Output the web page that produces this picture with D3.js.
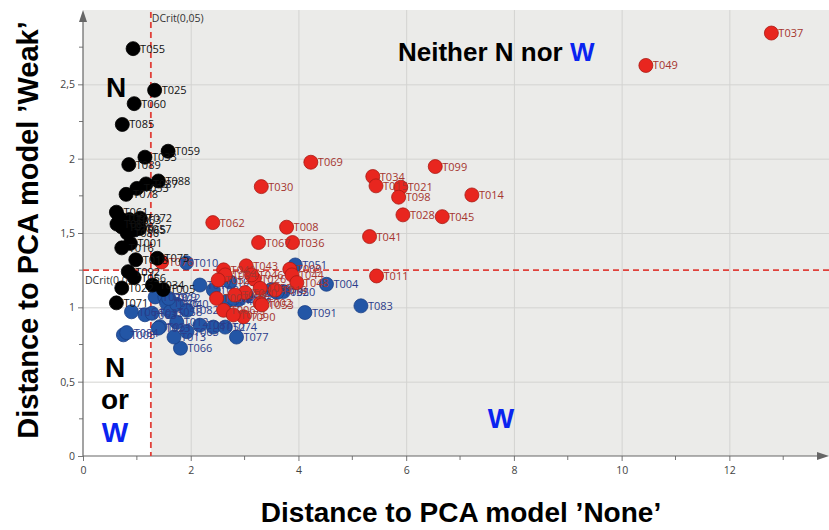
<!DOCTYPE html>
<html>
<head>
<meta charset="utf-8">
<script src="https://cdn.jsdelivr.net/npm/d3@7"></script>
<style>
  html, body { margin: 0; padding: 0; background: #fff; }
  svg { display: block; }
</style>
</head>
<body>
<svg id="chart" width="829" height="530"></svg>
<script>
// Critical distances (DCrit at 0,05) for both PCA models
const dCritNone = 1.26;
const dCritWeak = 1.25;

// Axis tick values
const xMajorTicks = [0, 2, 4, 6, 8, 10, 12];
const xMinorTicks = [1, 3, 5, 7, 9, 11, 13];
const yMajorTicks = [0, 0.5, 1, 1.5, 2, 2.5];
const yMinorTicks = [0.25, 0.75, 1.25, 1.75, 2.25, 2.75];

// Samples classified as N (black)
const nNames = ["T055","T025","T060","T085","T059","T033","T089","T088","T087","T053","T078","T061","T072","T097","T063","T065","T070","T080","T086","T057","T001","T016","T018","T075","T092","T056","T022","T005","T034b","T071"];
const nX     = [0.93, 1.33, 0.95, 0.73, 1.58, 1.15, 0.85, 1.40, 1.17, 1.00, 0.80, 0.62, 1.06, 0.68, 0.86, 0.95, 0.72, 0.63, 0.82, 1.05, 0.88, 0.72, 0.98, 1.38, 0.84, 0.95, 0.72, 1.49, 1.29, 0.62];
const nY     = [2.74, 2.46, 2.37, 2.23, 2.05, 2.01, 1.96, 1.85, 1.83, 1.80, 1.76, 1.64, 1.60, 1.60, 1.59, 1.52, 1.54, 1.56, 1.50, 1.53, 1.43, 1.40, 1.32, 1.33, 1.24, 1.20, 1.13, 1.12, 1.15, 1.03];

// Samples classified as neither N nor W (red)
const rNames = ["T037","T049","T069","T099","T034","T015","T021","T098","T014","T030","T028","T045","T062","T008","T067","T036","T041","T011","T076","T043","T042","T094","T026","T009","T044","T048","T019","T002","T020","T007","T090","T006","T073","T046r","T059r","T039","T052r","T053r"];
const rX     = [12.78, 10.45, 4.23, 6.54, 5.38, 5.44, 5.90, 5.86, 7.22, 3.31, 5.94, 6.67, 2.41, 3.78, 3.26, 3.89, 5.32, 5.45, 1.46, 3.03, 2.61, 2.64, 3.18, 3.84, 3.88, 3.97, 3.57, 3.29, 3.01, 2.48, 2.98, 2.61, 2.79, 3.13, 3.29, 2.82, 2.51, 3.32];
const rY     = [2.845, 2.627, 1.976, 1.947, 1.88, 1.817, 1.808, 1.741, 1.756, 1.812, 1.622, 1.61, 1.57, 1.539, 1.436, 1.436, 1.476, 1.211, 1.305, 1.279, 1.252, 1.218, 1.19, 1.256, 1.218, 1.166, 1.117, 1.027, 1.099, 1.06, 0.937, 0.98, 0.949, 1.218, 1.128, 1.083, 1.184, 1.016];

// Samples classified as W (blue)
const wNames = ["T010","T051","T004","T083","T091","T077","T066","T013","T050","T003","T084","T064","T063b","T029","T079","T046","T058","T040","T012","T031","T035","T082","T017","T093","T095","T081","T052","T074","T047","T038","T054","T096","T032","T068","T023","T065b","T012b"];
const wX     = [1.92, 3.94, 4.52, 5.16, 4.12, 2.85, 1.81, 1.69, 3.72, 0.75, 0.81, 0.90, 1.15, 1.34, 1.52, 1.55, 1.62, 1.74, 1.74, 1.43, 1.28, 1.93, 2.17, 2.42, 2.73, 2.17, 2.42, 2.64, 2.67, 2.88, 3.04, 3.50, 3.60, 2.79, 1.40, 1.93, 1.59];
const wY     = [1.30, 1.285, 1.155, 1.01, 0.965, 0.80, 0.725, 0.80, 1.106, 0.815, 0.83, 0.97, 0.95, 1.07, 1.07, 1.03, 0.97, 1.02, 0.90, 0.87, 0.96, 0.98, 1.15, 1.117, 1.17, 0.88, 0.867, 0.867, 1.04, 1.05, 1.083, 1.12, 1.10, 1.06, 0.86, 0.836, 1.06];

// Region annotation
const regionTitle = "Neither N nor ";

const svg = d3.select("#chart");
const pL = 83, pR = 829, pT = 10, pB = 456;

const x = d3.scaleLinear().domain([0, 13.85]).range([pL, pR]);
const y = d3.scaleLinear().domain([0, 3.0]).range([pB, pT]);

const fmt = v => String(v).replace(".", ",");
const tickFont = "'Open Sans', 'Noto Sans', sans-serif";

// Plot background: grey everywhere, white in the "N or W" corner
svg.append("rect")
  .attr("x", pL).attr("y", pT)
  .attr("width", pR - pL).attr("height", pB - pT)
  .attr("fill", "#ebebe9");
svg.append("rect")
  .attr("x", pL).attr("y", y(dCritWeak))
  .attr("width", x(dCritNone) - pL).attr("height", pB - y(dCritWeak))
  .attr("fill", "#ffffff");

// Grid lines
const grid = svg.append("g").attr("stroke", "#d3d3d1").attr("stroke-width", 1);
grid.selectAll("line.vx").data(xMajorTicks.filter(d => d > 0)).join("line")
  .attr("x1", d => x(d) + 0.5).attr("x2", d => x(d) + 0.5)
  .attr("y1", pT).attr("y2", pB);
grid.selectAll("line.hy").data(yMajorTicks.filter(d => d > 0)).join("line")
  .attr("x1", pL).attr("x2", pR)
  .attr("y1", d => y(d) + 0.5).attr("y2", d => y(d) + 0.5);

// X axis
const xAxis = svg.append("g")
  .attr("transform", `translate(0,${pB})`)
  .call(d3.axisBottom(x).tickValues(xMajorTicks).tickFormat(fmt).tickSize(5).tickPadding(6));
xAxis.append("g").selectAll("line").data(xMinorTicks).join("line")
  .attr("x1", d => x(d)).attr("x2", d => x(d)).attr("y1", 0).attr("y2", 4)
  .attr("stroke", "#777");

// Y axis
const yAxis = svg.append("g")
  .attr("transform", `translate(${pL},0)`)
  .call(d3.axisLeft(y).tickValues(yMajorTicks).tickFormat(fmt).tickSize(5).tickPadding(3));
yAxis.append("g").selectAll("line").data(yMinorTicks).join("line")
  .attr("x1", -4).attr("x2", 0).attr("y1", d => y(d)).attr("y2", d => y(d))
  .attr("stroke", "#777");

[xAxis, yAxis].forEach(g => {
  g.select(".domain").remove();
  g.selectAll(".tick line").attr("stroke", "#777");
  g.selectAll(".tick text").attr("fill", "#444").style("font-family", tickFont).style("font-size", "10.5px");
});

// Axis lines with arrow heads
svg.append("line").attr("x1", pL).attr("x2", pL).attr("y1", pB).attr("y2", pT + 4)
  .attr("stroke", "#666").attr("stroke-width", 1.2);
svg.append("line").attr("x1", pL).attr("x2", pR - 4).attr("y1", pB).attr("y2", pB)
  .attr("stroke", "#666").attr("stroke-width", 1.2);
svg.append("path").attr("d", `M${pL - 4},${pT + 12}L${pL},${pT}L${pL + 4},${pT + 12}Z`).attr("fill", "#666");
svg.append("path").attr("d", `M${pR - 12},${pB - 4}L${pR},${pB}L${pR - 12},${pB + 4}Z`).attr("fill", "#666");

// Critical distance lines
svg.append("line")
  .attr("x1", x(dCritNone)).attr("x2", x(dCritNone)).attr("y1", pT + 2).attr("y2", pB)
  .attr("stroke", "#e0403a").attr("stroke-width", 1.8).attr("stroke-dasharray", "6,4");
svg.append("line")
  .attr("x1", pL).attr("x2", pR).attr("y1", y(dCritWeak)).attr("y2", y(dCritWeak))
  .attr("stroke", "#e0403a").attr("stroke-width", 1.8).attr("stroke-dasharray", "6,4");
svg.append("text").attr("x", x(dCritNone) + 1).attr("y", pT + 12)
  .text("DCrit(0,05)").attr("fill", "#333").style("font-family", tickFont).style("font-size", "10.5px");
svg.append("text").attr("x", pL + 2).attr("y", y(dCritWeak) + 14)
  .text("DCrit(0,05)").attr("fill", "#333").style("font-family", tickFont).style("font-size", "10.5px");

// Scatter series
function drawSeries(names, xs, ys, fill, stroke, labelColor) {
  const data = names.map((n, i) => ({ name: n.replace(/[a-z]$/, ""), x: xs[i], y: ys[i] }));
  const g = svg.append("g");
  g.selectAll("circle").data(data).join("circle")
    .attr("cx", d => x(d.x)).attr("cy", d => y(d.y)).attr("r", 7)
    .attr("fill", fill).attr("stroke", stroke).attr("stroke-width", 0.8);
  g.selectAll("text").data(data).join("text")
    .attr("x", d => x(d.x) + 7).attr("y", d => y(d.y) + 4)
    .text(d => d.name)
    .attr("fill", labelColor)
    .style("font-family", tickFont).style("font-size", "11px");
}
drawSeries(wNames, wX, wY, "#2356a6", "#1a3f85", "#2b3c8a");
drawSeries(rNames, rX, rY, "#e8261f", "#a81a14", "#a5352f");
drawSeries(nNames, nX, nY, "#000000", "#000000", "#111111");

// Region annotations
const bold = "'Liberation Sans', Arial, sans-serif";
const title = svg.append("text").attr("x", 398).attr("y", 61)
  .style("font-family", bold).style("font-weight", "bold").style("font-size", "26px").attr("fill", "#000");
title.append("tspan").text(regionTitle);
title.append("tspan").text("W").attr("fill", "#0a24f0");

const bigLabel = (tx, ty, t, c) => svg.append("text").attr("x", tx).attr("y", ty)
  .attr("text-anchor", "middle").text(t).attr("fill", c)
  .style("font-family", bold).style("font-weight", "bold").style("font-size", "28px");
bigLabel(116, 97, "N", "#000");
bigLabel(115, 377, "N", "#000");
bigLabel(115, 409, "or", "#000");
bigLabel(115, 442, "W", "#0a24f0");
bigLabel(501, 428, "W", "#0a24f0");

// Axis titles
svg.append("text").attr("x", 461).attr("y", 522).attr("text-anchor", "middle")
  .text("Distance to PCA model \u2019None\u2019")
  .style("font-family", bold).style("font-weight", "bold").style("font-size", "28px");
svg.append("text").attr("transform", "translate(38,230) rotate(-90)").attr("text-anchor", "middle")
  .text("Distance to PCA model \u2019Weak\u2019")
  .style("font-family", bold).style("font-weight", "bold").style("font-size", "29px");
</script>
</body>
</html>
